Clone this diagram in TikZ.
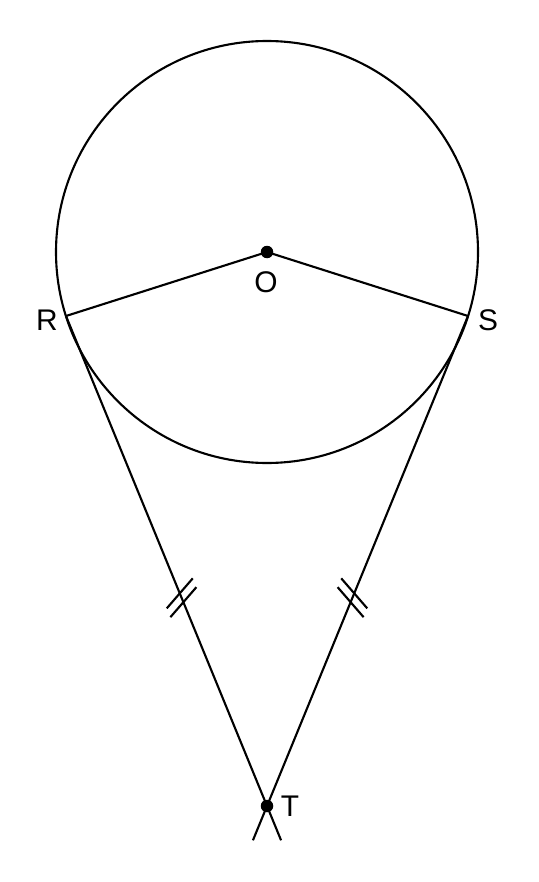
\documentclass[tikz,border=0pt]{standalone}
\usepackage{fontspec}
\setmainfont{Liberation Sans}
\usetikzlibrary{calc}
\begin{document}
\begin{tikzpicture}[x=0.02cm, y=-0.02cm,
                    line/.style={
                    draw,
                    line width=1.2pt,
                    },
                    lbl/.style={
                    font=\fontsize{17}{20}\selectfont,
                    anchor=center,
                    },
                    pnt/.style={
                    fill,
                    circle,
                    inner sep=0pt,
                    minimum size=0.25cm,
                    } ]

\useasboundingbox (0,0) rectangle (538,882);

\draw
(267,252) coordinate (O)
(66,316) coordinate (R)
(468,316) coordinate (S)
(267,806) coordinate (T)
;

\draw[line] (O) circle[radius=211];
\draw[line] (R) -- (O) -- (S);
\draw[line] (R) -- ($(R)!1.07!(T)$) coordinate (rend);
\draw[line] (S) -- ($(S)!1.07!(T)$) coordinate (send);

% tick marks
\foreach \t in {0.566,0.584}{
  \draw[line] ($(R)!\t!(T)$) ++(-13,15) -- ++(26,-30);
  \draw[line] ($(S)!\t!(T)$) ++(-13,-15) -- ++(26,30);
}

\node[pnt] (o) at (O) {};
\node[pnt] (t) at (T) {};

\node[lbl] (lo) at (266,282) {O};
\node[lbl] (lr) at (47,320) {R};
\node[lbl] (ls) at (488,320) {S};
\node[lbl] (lt) at (290,806) {T};

\end{tikzpicture}
\end{document}
